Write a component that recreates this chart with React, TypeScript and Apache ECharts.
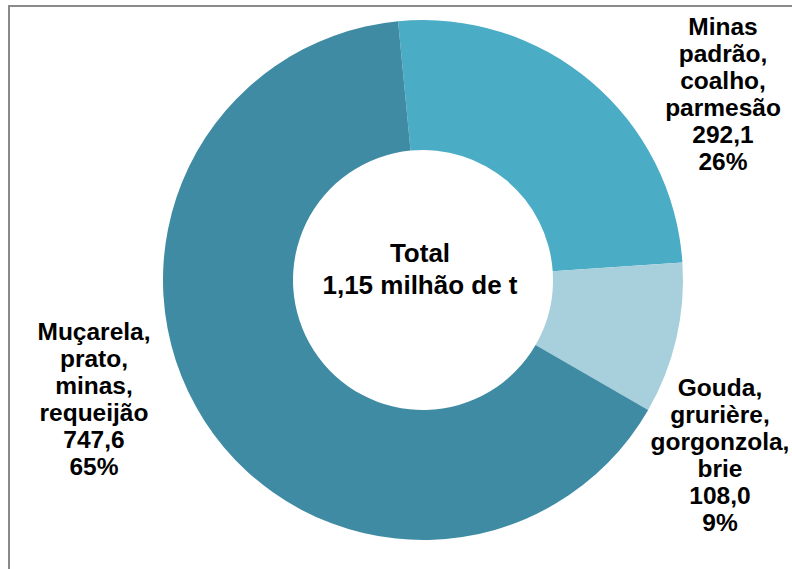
import React, { useEffect, useRef } from "react";
import * as echarts from "echarts";

const categories = [
  "Minas\npadrão,\ncoalho,\nparmesão",
  "Gouda,\ngrurière,\ngorgonzola,\nbrie",
  "Muçarela,\nprato,\nminas,\nrequeijão",
];
const values = [292.1, 108.0, 747.6];
const percents = [26, 9, 65];
const colors = ["#4BACC6", "#A8CFDC", "#3E8BA3"];
const centerTitle = "Total";
const centerSubtitle = "1,15 milhão de t";

const labelAnchors = [
  { x: 723, y: 94 },
  { x: 720, y: 455 },
  { x: 94, y: 399 },
];

const FONT = "'Liberation Sans', Arial, sans-serif";

export default function App() {
  const ref = useRef<HTMLDivElement>(null);
  useEffect(() => {
    if (!ref.current) return;
    const chart = echarts.init(ref.current, undefined, { renderer: "svg" });
    chart.setOption({
      animation: false,
      backgroundColor: "#ffffff",
      graphic: [
        {
          type: "rect",
          shape: { x: 9, y: 6, width: 900, height: 700 },
          style: { fill: "none", stroke: "#8a8a8a", lineWidth: 2 },
          silent: true,
          z: 0,
        },
        {
          type: "text",
          x: 420,
          y: 269,
          style: {
            text: centerTitle + "\n" + centerSubtitle,
            fill: "#000",
            font: `bold 26px ${FONT}`,
            lineHeight: 32,
            align: "center",
            verticalAlign: "middle",
          },
          z: 10,
        },
      ],
      series: [
        {
          type: "pie",
          center: [423, 280],
          radius: [130, 260],
          startAngle: 95.5,
          clockwise: true,
          avoidLabelOverlap: false,
          itemStyle: { borderWidth: 0 },
          emphasis: { disabled: true },
          labelLine: { show: false },
          label: {
            show: true,
            position: "outside",
            color: "#000",
            fontFamily: FONT,
            fontWeight: "bold",
            fontSize: 24.5,
            lineHeight: 27,
            align: "center",
            formatter: (p: any) =>
              `${p.name}\n${values[p.dataIndex].toFixed(1).replace(".", ",")}\n${percents[p.dataIndex]}%`,
          },
          labelLayout: (params: any) => ({
            x: labelAnchors[params.dataIndex].x,
            y: labelAnchors[params.dataIndex].y,
            align: "center",
            verticalAlign: "middle",
          }),
          data: categories.map((name, i) => ({
            name,
            value: values[i],
            itemStyle: { color: colors[i] },
          })),
        },
      ],
    });
    return () => chart.dispose();
  }, []);
  return (
    <div
      ref={ref}
      style={{ position: "absolute", left: 0, top: 0, width: 792, height: 569 }}
    />
  );
}
